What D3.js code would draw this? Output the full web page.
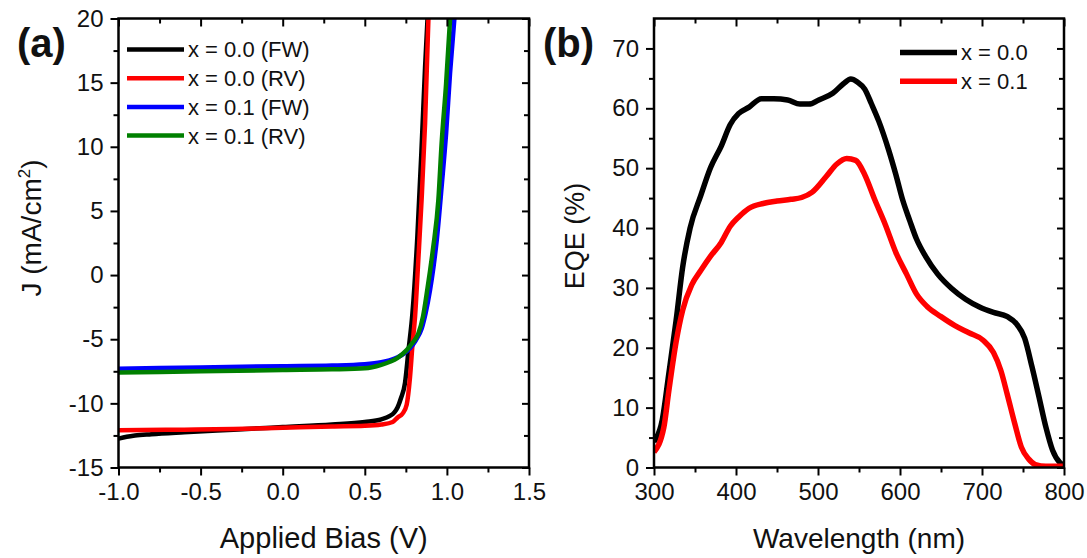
<!DOCTYPE html>
<html>
<head>
<meta charset="utf-8">
<script src="https://cdn.jsdelivr.net/npm/d3@7"></script>
<style>
  body { margin: 0; background: #fff; }
  text { font-family: "Liberation Sans", Arial, sans-serif; fill: #111; }
</style>
</head>
<body>
<svg id="chart" width="1087" height="558"></svg>
<script>
// ---- panel (a): J-V curves ----
const jvNames = ["x = 0.0 (FW)", "x = 0.0 (RV)", "x = 0.1 (FW)", "x = 0.1 (RV)"];
const jvColors = ["#000000", "#ff0000", "#0000ff", "#008000"];

const vBlackFW = [-1.0, -0.95, -0.9, -0.8, -0.6, -0.3, 0.0, 0.3, 0.5, 0.6, 0.65, 0.68, 0.70, 0.72, 0.745, 0.765, 0.79, 0.82, 0.845, 0.867, 0.89];
const jBlackFW = [-12.75, -12.6, -12.5, -12.4, -12.25, -12.05, -11.85, -11.65, -11.45, -11.25, -11.0, -10.7, -10.3, -9.6, -8.4, -6.0, -3.0, 3.0, 9.7, 16.2, 22];

const vRedRV = [-1.0, -0.6, -0.3, 0.0, 0.3, 0.5, 0.6, 0.67, 0.70, 0.73, 0.755, 0.775, 0.79, 0.806, 0.826, 0.846, 0.867, 0.89];
const jRedRV = [-12.1, -12.05, -12.0, -11.9, -11.8, -11.75, -11.65, -11.45, -11.1, -10.8, -10.1, -8.0, -5.5, -3.25, 1.2, 5.9, 11.8, 21];

const vBlueFW = [-1.0, -0.5, 0.0, 0.3, 0.5, 0.6, 0.65, 0.70, 0.74, 0.775, 0.81, 0.847, 0.87, 0.897, 0.918, 0.938, 0.968, 0.995, 1.019, 1.045, 1.06];
const jBlueFW = [-7.3, -7.2, -7.1, -7.05, -6.95, -6.8, -6.65, -6.4, -6.1, -5.7, -5.1, -4.15, -3.0, -1.2, 0.6, 2.7, 6.9, 11.0, 15.7, 19.9, 22];

const vGreenRV = [-1.0, -0.5, 0.0, 0.3, 0.5, 0.6, 0.653, 0.70, 0.755, 0.79, 0.826, 0.855, 0.877, 0.897, 0.917, 0.948, 0.968, 0.995, 1.019, 1.03];
const jGreenRV = [-7.6, -7.5, -7.4, -7.35, -7.27, -7.0, -6.76, -6.45, -5.85, -5.3, -4.55, -3.2, -1.45, 0.3, 2.2, 5.85, 10.3, 14.9, 19.9, 22];

const biasTicks = [-1.0, -0.5, 0.0, 0.5, 1.0, 1.5];
const biasMinor = [-0.75, -0.25, 0.25, 0.75, 1.25];
const jTicks = [-15, -10, -5, 0, 5, 10, 15, 20];
const jMinor = [-12.5, -7.5, -2.5, 2.5, 7.5, 12.5, 17.5];

// ---- panel (b): EQE spectra ----
const eqeNames = ["x = 0.0", "x = 0.1"];
const eqeColors = ["#000000", "#ff0000"];

const wlBlack = [300, 310, 318, 327, 335, 344, 357, 369, 382, 393, 403, 416, 431, 446, 463, 478, 489, 501, 518, 531, 540, 548, 557, 565, 574, 586, 595, 603, 612, 620, 631, 646, 663, 680, 697, 714, 731, 742, 752, 761, 769, 778, 786, 795, 800];
const eqeBlack = [4.3, 7.9, 15.6, 24.6, 33.5, 40, 45.4, 50.1, 53.7, 57.3, 59.1, 60.2, 61.6, 61.6, 61.4, 60.7, 60.7, 61.4, 62.5, 64.1, 64.9, 64.4, 63.2, 60.8, 57.9, 53.1, 48.9, 44.8, 41.2, 38.2, 35.3, 32.3, 29.9, 28.1, 26.8, 25.9, 25.2, 24, 21.6, 16.8, 12.1, 6.7, 2.9, 0.8, 0.3];

const wlRed = [300, 312, 318, 327, 335, 346, 357, 369, 382, 393, 403, 416, 433, 450, 467, 480, 493, 510, 523, 535, 546, 557, 569, 582, 595, 608, 620, 633, 650, 667, 684, 701, 714, 723, 731, 740, 748, 757, 765, 778, 800];
const eqeRed = [2.6, 6.7, 12.7, 21.0, 26.3, 30.5, 32.9, 35.3, 37.6, 40.3, 41.8, 43.3, 44.1, 44.5, 44.8, 45.1, 46, 48.6, 50.7, 51.6, 51.3, 48.9, 44.8, 40.6, 35.9, 32.3, 29.0, 26.9, 25.2, 23.7, 22.5, 21.3, 19.2, 16.2, 12.1, 7.3, 3.4, 1.4, 0.5, 0.2, 0.2];

const wlTicks = [300, 400, 500, 600, 700, 800];
const wlMinor = [350, 450, 550, 650, 750];
const eqeTicks = [0, 10, 20, 30, 40, 50, 60, 70];
const eqeMinor = [5, 15, 25, 35, 45, 55, 65];

const svg = d3.select("#chart");

function drawPanel(p) {
    const g = svg.append("g");
    const x = d3.scaleLinear().domain(p.xDomain).range([p.left, p.right]);
    const y = d3.scaleLinear().domain(p.yDomain).range([p.bottom, p.top]);

    const clipId = "clip-" + p.id;
    svg.append("clipPath").attr("id", clipId).append("rect")
        .attr("x", p.left).attr("y", p.top)
        .attr("width", p.right - p.left).attr("height", p.bottom - p.top);

    // curves
    const line = d3.line().x(d => x(d[0])).y(d => y(d[1])).curve(d3.curveMonotoneX);
    p.series.forEach((s, i) => {
        g.append("path")
            .datum(d3.zip(s.xs, s.ys))
            .attr("d", line)
            .attr("fill", "none")
            .attr("stroke", p.colors[i])
            .attr("stroke-width", p.lineWidth)
            .attr("stroke-linejoin", "round")
            .attr("clip-path", `url(#${clipId})`);
    });

    // axes: left/bottom outward with labels, top/right mirrored inward
    function styleAxis(sel) {
        sel.select(".domain").remove();
        sel.selectAll("line").attr("stroke", "#000").attr("stroke-width", 2);
        sel.selectAll("text").style("font-size", "24px").attr("fill", "#111");
    }
    g.append("g").attr("transform", `translate(0,${p.bottom})`)
        .call(d3.axisBottom(x).tickValues(p.xTicks).tickSize(8).tickPadding(7).tickFormat(p.xFmt)).call(styleAxis);
    g.append("g").attr("transform", `translate(0,${p.bottom})`)
        .call(d3.axisBottom(x).tickValues(p.xMinor).tickSize(5).tickFormat("")).call(styleAxis);
    g.append("g").attr("transform", `translate(${p.left},0)`)
        .call(d3.axisLeft(y).tickValues(p.yTicks).tickSize(8).tickPadding(7).tickFormat(d => String(d))).call(styleAxis);
    g.append("g").attr("transform", `translate(${p.left},0)`)
        .call(d3.axisLeft(y).tickValues(p.yMinor).tickSize(5).tickFormat("")).call(styleAxis);
    g.append("g").attr("transform", `translate(0,${p.top})`)
        .call(d3.axisBottom(x).tickValues(p.xTicks).tickSize(8).tickFormat("")).call(styleAxis);
    g.append("g").attr("transform", `translate(0,${p.top})`)
        .call(d3.axisBottom(x).tickValues(p.xMinor).tickSize(5).tickFormat("")).call(styleAxis);
    g.append("g").attr("transform", `translate(${p.right},0)`)
        .call(d3.axisLeft(y).tickValues(p.yTicks).tickSize(7).tickFormat("")).call(styleAxis);
    g.append("g").attr("transform", `translate(${p.right},0)`)
        .call(d3.axisLeft(y).tickValues(p.yMinor).tickSize(5).tickFormat("")).call(styleAxis);

    // frame
    g.append("rect")
        .attr("x", p.left).attr("y", p.top)
        .attr("width", p.right - p.left).attr("height", p.bottom - p.top)
        .attr("fill", "none").attr("stroke", "#000").attr("stroke-width", 2.5);

    // axis titles
    g.append("text")
        .attr("x", (p.left + p.right) / 2).attr("y", 548)
        .attr("text-anchor", "middle")
        .style("font-size", p.xTitleSize + "px")
        .text(p.xTitle);
    const yt = g.append("text")
        .attr("transform", `translate(${p.yTitleX},${p.yTitleY}) rotate(-90)`)
        .attr("text-anchor", "middle")
        .style("font-size", p.yTitleSize + "px");
    p.yTitle(yt);

    // panel label
    g.append("text")
        .attr("x", p.labelX).attr("y", 57)
        .style("font-size", "40px").style("font-weight", "bold")
        .text(p.label);

    // legend
    p.names.forEach((name, i) => {
        const ly = p.legendY + i * p.legendStep;
        g.append("line")
            .attr("x1", p.legendX).attr("x2", p.legendX + 57)
            .attr("y1", ly).attr("y2", ly)
            .attr("stroke", p.colors[i]).attr("stroke-width", p.lineWidth);
        g.append("text")
            .attr("x", p.legendX + 61).attr("y", ly)
            .attr("dy", "0.36em")
            .style("font-size", "22px").attr("fill", "#222")
            .text(name);
    });
}

drawPanel({
    id: "a", left: 118.5, right: 529, top: 18.5, bottom: 467.5,
    xDomain: [-1.0, 1.5], yDomain: [-15, 20],
    xTicks: biasTicks, xMinor: biasMinor, yTicks: jTicks, yMinor: jMinor,
    xFmt: d => d.toFixed(1),
    series: [
        { xs: vBlackFW, ys: jBlackFW },
        { xs: vRedRV, ys: jRedRV },
        { xs: vBlueFW, ys: jBlueFW },
        { xs: vGreenRV, ys: jGreenRV }
    ],
    colors: jvColors, names: jvNames, lineWidth: 4.5,
    xTitle: "Applied Bias (V)", xTitleSize: 29,
    yTitleX: 41, yTitleY: 228, yTitleSize: 28,
    yTitle: t => {
        t.append("tspan").text("J (mA/cm");
        t.append("tspan").attr("dy", -11).style("font-size", "17px").text("2");
        t.append("tspan").attr("dy", 11).text(")");
    },
    label: "(a)", labelX: 17,
    legendX: 127, legendY: 49.5, legendStep: 28.7
});

drawPanel({
    id: "b", left: 654, right: 1064, top: 18.5, bottom: 467.5,
    xDomain: [300, 800], yDomain: [0, 75],
    xTicks: wlTicks, xMinor: wlMinor, yTicks: eqeTicks, yMinor: eqeMinor,
    xFmt: d => String(d),
    series: [
        { xs: wlBlack, ys: eqeBlack },
        { xs: wlRed, ys: eqeRed }
    ],
    colors: eqeColors, names: eqeNames, lineWidth: 5.5,
    xTitle: "Wavelength (nm)", xTitleSize: 28,
    yTitleX: 584, yTitleY: 236, yTitleSize: 27,
    yTitle: t => t.text("EQE (%)"),
    label: "(b)", labelX: 543,
    legendX: 900, legendY: 52.5, legendStep: 28.7
});
</script>
</body>
</html>
